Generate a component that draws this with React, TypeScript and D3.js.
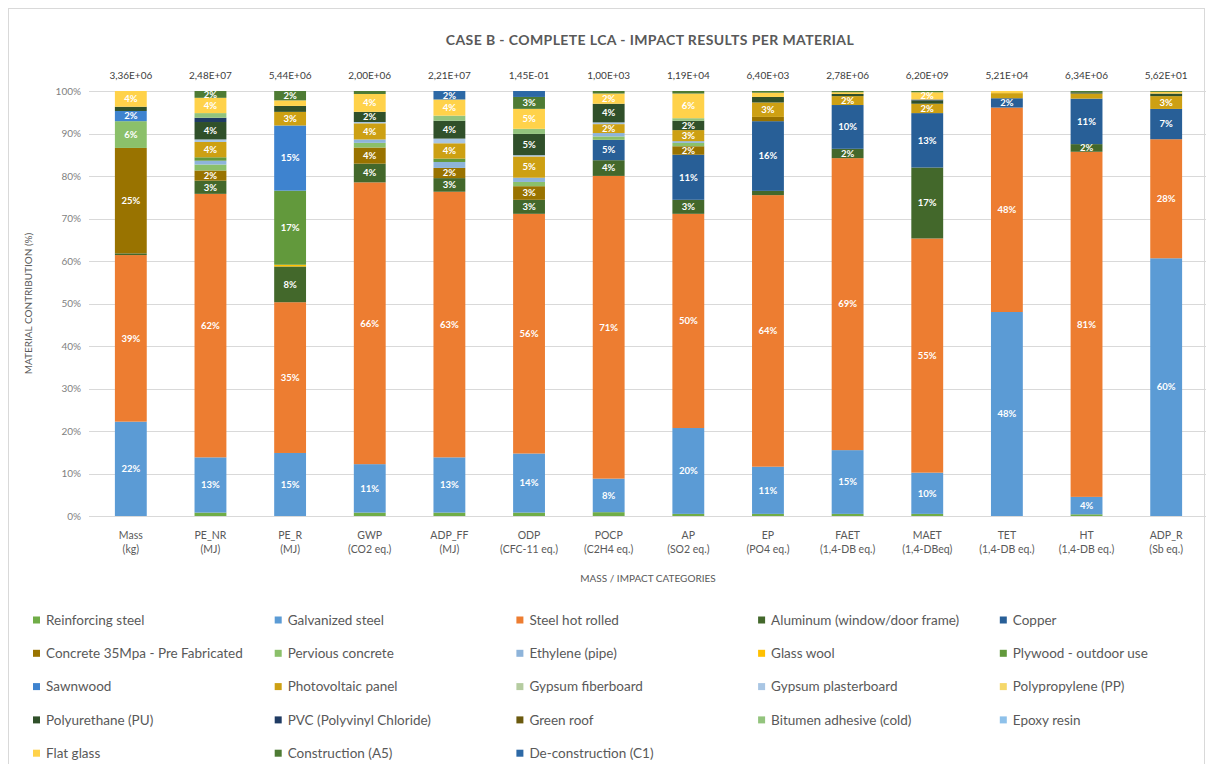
import React from "react";
import * as d3 from "d3";

const categories = ["Mass", "PE_NR", "PE_R", "GWP", "ADP_FF", "ODP", "POCP", "AP", "EP", "FAET", "MAET", "TET", "HT", "ADP_R"];
const units = ["(kg)", "(MJ)", "(MJ)", "(CO2 eq.)", "(MJ)", "(CFC-11 eq.)", "(C2H4 eq.)", "(SO2 eq.)", "(PO4 eq.)", "(1,4-DB eq.)", "(1,4-DBeq)", "(1,4-DB eq.)", "(1,4-DB eq.)", "(Sb eq.)"];
const totals = ["3,36E+06", "2,48E+07", "5,44E+06", "2,00E+06", "2,21E+07", "1,45E-01", "1,00E+03", "1,19E+04", "6,40E+03", "2,78E+06", "6,20E+09", "5,21E+04", "6,34E+06", "5,62E+01"];
const yTicks = [0, 0.1, 0.2, 0.3, 0.4, 0.5, 0.6, 0.7, 0.8, 0.9, 1];

// contributions in % per category (same order as categories)
const reinforcingSteel = [0, 0.8, 0, 0.8, 0.8, 0.8, 0.9, 0.5, 0.5, 0.5, 0.5, 0, 0.4, 0];
const galvanizedSteel = [22.2, 13.0, 14.8, 11.4, 13.0, 13.9, 7.9, 20.2, 11.1, 15.0, 9.7, 48.0, 4.1, 60.4];
const steelHotRolled = [39.2, 62.0, 35.4, 66.3, 62.5, 56.4, 71.3, 50.4, 63.9, 68.7, 55.1, 48.1, 81.2, 27.9];
const aluminum = [0.4, 3.1, 8.4, 4.4, 3.2, 3.3, 3.7, 3.3, 1.0, 2.2, 16.7, 0, 1.8, 0];
const copper = [0, 0, 0, 0, 0, 0, 4.8, 10.6, 16.4, 10.3, 12.8, 2.2, 10.7, 7.1];
const concrete35 = [24.8, 2.4, 0, 3.8, 2.4, 3.2, 0, 2.0, 1.0, 0, 0, 0, 0, 0];
const perviousConcrete = [6.3, 1.4, 0, 1.1, 0, 1.0, 0.8, 0.8, 0, 0, 0, 0, 0, 0];
const ethylene = [0, 0.9, 0, 0.8, 1.4, 1.0, 0.8, 0.4, 0, 0, 0, 0, 0, 0];
const glassWool = [0, 0, 0.4, 0, 0, 0, 0, 0, 0, 0, 0, 0, 0, 0];
const plywood = [0, 0.8, 17.4, 0, 0.8, 0, 0, 0, 0, 0, 0, 0, 0, 0];
const sawnwood = [2.4, 0, 15.3, 0, 0, 0, 0, 0, 0, 0, 0, 0, 0, 0];
const photovoltaic = [0, 3.6, 3.2, 3.8, 3.6, 5.0, 2.1, 2.6, 3.4, 2.1, 2.2, 1.2, 1.2, 3.0];
const gypsumFiberboard = [0, 0, 0, 0, 0, 0, 0, 0, 0, 0, 0, 0, 0, 0];
const gypsumPlasterboard = [0, 0.6, 0, 0.3, 1.1, 0.3, 0.4, 0, 0, 0, 0, 0, 0, 0];
const polypropylene = [0, 0, 0, 0, 0, 0, 0, 0, 0, 0, 0, 0, 0, 0];
const polyurethane = [1.0, 4.1, 1.4, 2.4, 4.2, 5.0, 4.4, 2.2, 1.3, 0.5, 0.8, 0, 0.3, 0.6];
const pvc = [0, 1.0, 0, 0, 0, 0, 0, 0, 0, 0, 0.2, 0, 0, 0];
const greenRoof = [0, 0, 0, 0, 0, 0, 0, 0, 0, 0, 0, 0, 0, 0];
const bitumen = [0, 1.1, 0, 0, 1.2, 1.2, 0, 0.6, 0, 0, 0, 0, 0, 0];
const epoxyResin = [0, 0, 0, 0, 0, 0, 0, 0, 0, 0, 0, 0, 0, 0];
const flatGlass = [3.7, 3.6, 1.3, 4.2, 3.8, 4.7, 2.4, 5.8, 1.0, 0.4, 1.7, 0.5, 0, 0.4];
const constructionA5 = [0, 1.6, 2.2, 0.7, 0, 2.8, 0.6, 0.6, 0.4, 0.3, 0.3, 0, 0.3, 0.2];
const deconstructionC1 = [0, 0, 0, 0, 2.0, 1.4, 0, 0, 0, 0, 0, 0, 0, 0];

const seriesNames = [
  "Reinforcing steel", "Galvanized steel", "Steel hot rolled", "Aluminum (window/door frame)", "Copper",
  "Concrete 35Mpa - Pre Fabricated", "Pervious concrete", "Ethylene (pipe)", "Glass wool", "Plywood - outdoor use",
  "Sawnwood", "Photovoltaic panel", "Gypsum fiberboard", "Gypsum plasterboard", "Polypropylene (PP)",
  "Polyurethane (PU)", "PVC (Polyvinyl Chloride)", "Green roof", "Bitumen adhesive (cold)", "Epoxy resin",
  "Flat glass", "Construction (A5)", "De-construction (C1)",
];
const seriesValues = [
  reinforcingSteel, galvanizedSteel, steelHotRolled, aluminum, copper,
  concrete35, perviousConcrete, ethylene, glassWool, plywood,
  sawnwood, photovoltaic, gypsumFiberboard, gypsumPlasterboard, polypropylene,
  polyurethane, pvc, greenRoof, bitumen, epoxyResin,
  flatGlass, constructionA5, deconstructionC1,
];
const seriesColors = [
  "#70AD47", "#5B9BD5", "#ED7D31", "#43682B", "#285F97",
  "#997300", "#8BC06A", "#8EB4DA", "#FFC000", "#62993C",
  "#3E83CF", "#CDA013", "#B5CCA0", "#A9C6E4", "#F5D86A",
  "#30502A", "#1F3B63", "#6B5A0E", "#93C47D", "#8EC1EA",
  "#FFD24A", "#4E7B34", "#2D69A6",
];

const FONT = "Lato, 'Open Sans', sans-serif";

export default function App() {
  const W = 1213, H = 764;
  const x = d3.scaleBand<string>().domain(categories).range([91, 1206]).paddingInner(0.6).paddingOuter(0.3);
  const y = d3.scaleLinear().domain([0, 1]).range([516, 91]);

  const rows = categories.map((c, i) => {
    const r: any = { cat: c };
    seriesNames.forEach((s, j) => (r[s] = seriesValues[j][i]));
    return r;
  });
  const stack = d3.stack<any>().keys(seriesNames).offset(d3.stackOffsetExpand);
  const layers = stack(rows);

  const legendCols = 5;
  return (
    <svg width={W} height={H} style={{ position: "absolute", left: 0, top: 0, background: "#fff" }} fontFamily={FONT}>
      <rect x={8.5} y={8.5} width={1196} height={780} fill="#fff" stroke="#D9D9D9" />
      <text x={650} y={45} textAnchor="middle" fontSize={14} letterSpacing={0.4} fontWeight={700} fill="#595959">
        CASE B - COMPLETE LCA - IMPACT RESULTS PER MATERIAL
      </text>
      {yTicks.map((t) => (
        <g key={t}>
          <line x1={89} x2={1206} y1={Math.round(y(t)) + 0.5} y2={Math.round(y(t)) + 0.5} stroke="#D9D9D9" />
          <text x={81} y={y(t)} dy="0.35em" textAnchor="end" fontSize={10} fill="#7F7F7F">
            {d3.format(".0%")(t)}
          </text>
        </g>
      ))}
      <text transform={`translate(32,${(y(0) + y(1)) / 2}) rotate(-90)`} textAnchor="middle" fontSize={10} fill="#595959">
        MATERIAL CONTRIBUTION (%)
      </text>
      {layers.map((layer, j) => (
        <g key={seriesNames[j]} fill={seriesColors[j]}>
          {layer.map((d, i) => {
            const y0 = y(d[0]), y1 = y(d[1]);
            if (y0 - y1 <= 0) return null;
            return <rect key={i} x={x(categories[i])} y={y1} width={x.bandwidth()} height={y0 - y1} />;
          })}
        </g>
      ))}
      {layers.map((layer, j) => (
        <g key={"l" + j}>
          {layer.map((d, i) => {
            const v = seriesValues[j][i];
            if (v < 1.5) return null;
            return (
              <text key={i} x={(x(categories[i]) as number) + x.bandwidth() / 2} y={(y(d[0]) + y(d[1])) / 2} dy="0.35em"
                textAnchor="middle" fontSize={9.5} fontWeight={700} fill="#fff">
                {Math.round(v)}%
              </text>
            );
          })}
        </g>
      ))}
      {categories.map((c, i) => {
        const cx = (x(c) as number) + x.bandwidth() / 2;
        return (
          <g key={c}>
            <text x={cx} y={75} dy="0.35em" textAnchor="middle" fontSize={10} fill="#404040">{totals[i]}</text>
            <text x={cx} y={535} dy="0.35em" textAnchor="middle" fontSize={10.5} fill="#595959">{c}</text>
            <text x={cx} y={549} dy="0.35em" textAnchor="middle" fontSize={10.5} fill="#595959">{units[i]}</text>
          </g>
        );
      })}
      <text x={648} y={578} dy="0.35em" textAnchor="middle" fontSize={10} fill="#595959">MASS / IMPACT CATEGORIES</text>
      {seriesNames.map((s, j) => {
        const col = j % legendCols, row = Math.floor(j / legendCols);
        const lx = 33 + col * 241.7, ly = 620 + row * 33.3;
        return (
          <g key={s}>
            <rect x={lx} y={ly - 3.5} width={7} height={7} fill={seriesColors[j]} />
            <text x={lx + 13} y={ly} dy="0.35em" fontSize={13.5} fill="#595959">{s}</text>
          </g>
        );
      })}
    </svg>
  );
}
